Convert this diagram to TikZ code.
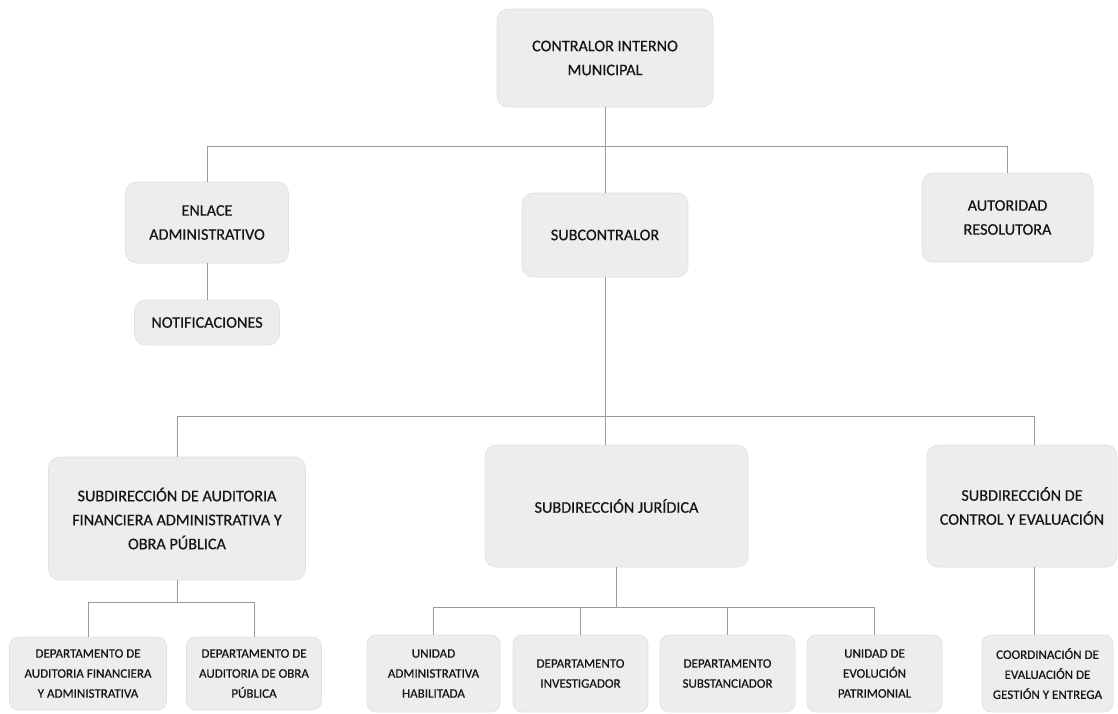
\documentclass[tikz,border=0pt]{standalone}
\usepackage{fontspec}
\setmainfont{Carlito}
\newfontfamily\boxfont{Carlito}[FakeBold=0.5]
\definecolor{boxfill}{HTML}{EDEDED}
\definecolor{boxline}{HTML}{E0E0E0}
\definecolor{txt}{HTML}{151515}
\definecolor{conncol}{HTML}{9A9A9A}
\tikzset{
  box/.style={rounded corners=11pt, fill=boxfill, draw=boxline, line width=0.6pt,
    text=txt, align=center, inner sep=2pt, font=\boxfont\fontsize{16.2}{24}\selectfont},
  smallbox/.style={box, rounded corners=9pt, font=\boxfont\fontsize{13}{20}\selectfont},
  conn/.style={draw=conncol, line width=0.7pt}
}
\begin{document}
\begin{tikzpicture}[x=1pt,y=-1pt]
\useasboundingbox (0,0) rectangle (1118,713);
% level 0-1
\node[box, minimum width=216, minimum height=98] (top) at (605,58) {CONTRALOR INTERNO\\MUNICIPAL};
\node[box, minimum width=163, minimum height=81] (enlace) at (207,222.5) {ENLACE\\ADMINISTRATIVO};
\node[box, minimum width=145, minimum height=45] (notif) at (207,322.5) {NOTIFICACIONES};
\node[box, minimum width=166, minimum height=84] (subc) at (605,235) {SUBCONTRALOR};
\node[box, minimum width=171, minimum height=89] (autor) at (1007.5,217.5) {AUTORIDAD\\RESOLUTORA};
% level 2
\node[box, minimum width=257, minimum height=123] (audit) at (177,518.5) {SUBDIRECCIÓN DE AUDITORIA\\FINANCIERA ADMINISTRATIVA Y\\OBRA PÚBLICA};
\node[box, minimum width=263, minimum height=122] (jurid) at (616.5,506) {SUBDIRECCIÓN JURÍDICA};
\node[box, minimum width=190, minimum height=122] (control) at (1022,506) {SUBDIRECCIÓN DE\\CONTROL Y EVALUACIÓN};
% level 3
\node[smallbox, minimum width=157, minimum height=73] (dep1) at (88,673.5) {DEPARTAMENTO DE\\AUDITORIA FINANCIERA\\Y ADMINISTRATIVA};
\node[smallbox, minimum width=135, minimum height=73] (dep2) at (254,673.5) {DEPARTAMENTO DE\\AUDITORIA DE OBRA\\PÚBLICA};
\node[smallbox, minimum width=133, minimum height=77] (unid) at (433.5,673.5) {UNIDAD\\ADMINISTRATIVA\\HABILITADA};
\node[smallbox, minimum width=135, minimum height=77] (inv) at (580.5,673.5) {DEPARTAMENTO\\INVESTIGADOR};
\node[smallbox, minimum width=135, minimum height=77] (subs) at (727.5,673.5) {DEPARTAMENTO\\SUBSTANCIADOR};
\node[smallbox, minimum width=135, minimum height=77] (evol) at (874.5,673.5) {UNIDAD DE\\EVOLUCIÓN\\PATRIMONIAL};
\node[smallbox, minimum width=131, minimum height=77] (coord) at (1047.5,673.5) {COORDINACIÓN DE\\EVALUACIÓN DE\\GESTIÓN Y ENTREGA};
% bus coordinates
\coordinate (b1) at (0,146);
\coordinate (b2) at (0,416);
\coordinate (b3) at (0,602);
\coordinate (b4) at (0,607);
% connectors level 1
\draw[conn] (top) -- (subc);
\draw[conn] (enlace.north) |- (autor.north |- b1) -- (autor.north);
\draw[conn] (enlace) -- (notif);
% connectors level 2
\draw[conn] (subc.south) -- (subc.south |- jurid.north);
\draw[conn] (audit.north) |- ([xshift=12pt]control.north |- b2) -- ([xshift=12pt]control.north);
% audit children
\draw[conn] (audit.south) -- (audit.south |- b3);
\draw[conn] (dep1.north) |- (dep2.north |- b3) -- (dep2.north);
% juridica children
\draw[conn] (jurid.south) -- (jurid.south |- b4);
\draw[conn] (unid.north) |- (evol.north |- b4) -- (evol.north);
\draw[conn] (inv.north) -- (inv.north |- b4);
\draw[conn] (subs.north) -- (subs.north |- b4);
% control child
\draw[conn] ([xshift=12pt]control.south) -- ([xshift=12pt]control.south |- coord.north);
\end{tikzpicture}
\end{document}
